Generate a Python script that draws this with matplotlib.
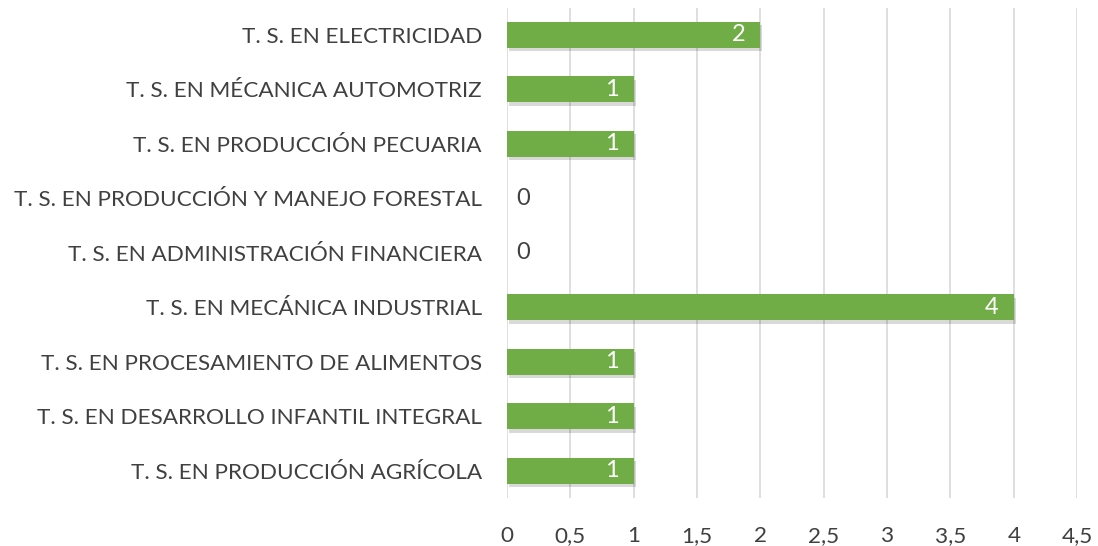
import numpy as np
import matplotlib.pyplot as plt
import matplotlib.patheffects as pe

categorias = [
    'T. S. EN PRODUCCIÓN AGRÍCOLA',
    'T. S. EN DESARROLLO INFANTIL INTEGRAL',
    'T. S. EN PROCESAMIENTO DE ALIMENTOS',
    'T. S. EN MECÁNICA INDUSTRIAL',
    'T. S. EN ADMINISTRACIÓN FINANCIERA',
    'T. S. EN PRODUCCIÓN Y MANEJO FORESTAL',
    'T. S. EN PRODUCCIÓN PECUARIA',
    'T. S. EN MÉCANICA AUTOMOTRIZ',
    'T. S. EN ELECTRICIDAD',
]
valores = [1, 1, 1, 4, 0, 0, 1, 1, 2]
xticks = [0, 0.5, 1, 1.5, 2, 2.5, 3, 3.5, 4, 4.5]

plt.rcParams['font.family'] = ['Lato', 'DejaVu Sans']

fig = plt.figure(figsize=(10.98, 5.46), dpi=100)
ax = fig.add_axes([0.4617, 0.0879, 0.5193, 0.898])

y = np.arange(len(categorias))
bars = ax.barh(y, valores, height=0.48, color='#70AD47', zorder=3)
for b in bars:
    b.set_path_effects([pe.SimplePatchShadow(offset=(1.5, -2.5), shadow_rgbFace='#000000', alpha=0.15),
                        pe.Normal()])

for yi, v in zip(y, valores):
    if v > 0:
        ax.text(v - 0.12, yi, str(v), ha='right', va='center', color='white', fontsize=17, zorder=4)
    else:
        ax.text(0.07, yi, str(v), ha='left', va='center', color='#404040', fontsize=17, zorder=4)

ax.set_xlim(0, 4.5)
ax.set_ylim(-0.5, len(categorias) - 0.5)
ax.set_xticks(xticks)
ax.set_xticklabels([str(t).replace('.', ',') if t % 1 else str(int(t)) for t in xticks])
ax.set_yticks(y)
ax.set_yticklabels(categorias)
ax.tick_params(axis='both', length=0, labelsize=16.2, labelcolor='#404040')
ax.tick_params(axis='x', pad=20)
ax.tick_params(axis='y', pad=18)
ax.grid(axis='x', color='#D9D9D9', linewidth=1.2, zorder=0)
for s in ax.spines.values():
    s.set_visible(False)

fig.savefig('out.png', dpi=100)
